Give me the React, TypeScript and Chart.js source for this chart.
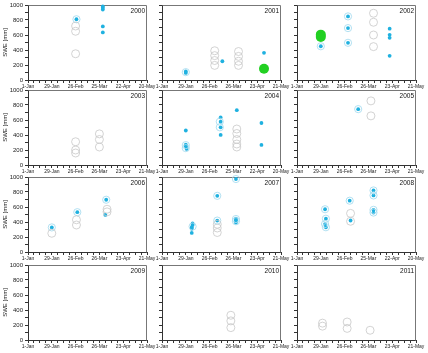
import { useEffect, useRef } from 'react';
import { Chart, registerables } from 'chart.js';

Chart.register(...registerables);

// Seasons shown, one panel each (3 columns x 4 rows)
const years = [2000, 2001, 2002, 2003, 2004, 2005, 2006, 2007, 2008, 2009, 2010, 2011];
const leapYears = [2000, 2004, 2008];

// Date labels every 28 days from 1-Jan
const leapTickLabels = ['1-Jan', '29-Jan', '26-Feb', '25-Mar', '22-Apr', '20-May'];
const commonTickLabels = ['1-Jan', '29-Jan', '26-Feb', '26-Mar', '23-Apr', '21-May'];
const sweTickLabels = [0, 200, 400, 600, 800, 1000];

// [year, days since 1-Jan, SWE mm]
const snowCourse: [number, number, number][] = [
  [2000, 56, 720], [2000, 56, 650], [2000, 56, 350],
  [2001, 62, 390], [2001, 62, 325], [2001, 62, 260], [2001, 62, 195],
  [2001, 90, 380], [2001, 90, 315], [2001, 90, 250], [2001, 90, 195],
  [2002, 90, 890], [2002, 90, 770], [2002, 90, 600], [2002, 90, 445],
  [2003, 56, 310], [2003, 56, 200], [2003, 56, 160],
  [2003, 84, 415], [2003, 84, 340], [2003, 84, 240],
  [2004, 88, 480], [2004, 88, 420], [2004, 88, 340], [2004, 88, 280], [2004, 88, 240],
  [2005, 87, 855], [2005, 87, 655],
  [2006, 28, 250], [2006, 57, 430], [2006, 57, 360], [2006, 93, 570], [2006, 93, 535],
  [2007, 65, 370], [2007, 65, 320], [2007, 65, 260],
  [2008, 63, 515], [2008, 63, 410],
  [2010, 81, 330], [2010, 81, 255], [2010, 81, 165],
  [2011, 30, 225], [2011, 30, 185], [2011, 59, 240], [2011, 59, 155], [2011, 86, 130],
];

const sensorRings: [number, number, number][] = [
  [2000, 57, 810],
  [2001, 28, 105],
  [2002, 28, 450], [2002, 60, 848], [2002, 60, 692], [2002, 60, 496],
  [2004, 28, 265], [2004, 28, 225], [2004, 68, 577], [2004, 68, 503],
  [2005, 72, 745],
  [2006, 28, 328], [2006, 58, 531], [2006, 92, 697],
  [2007, 36, 340], [2007, 65, 749], [2007, 65, 419], [2007, 87, 973], [2007, 87, 440], [2007, 87, 410],
  [2008, 33, 570], [2008, 34, 444], [2008, 33, 373], [2008, 34, 330], [2008, 62, 684],
  [2008, 90, 821], [2008, 90, 754], [2008, 90, 562], [2008, 90, 526],
];

const sensorSWE: [number, number, number][] = [
  [2000, 57, 810], [2000, 88, 980], [2000, 88, 965], [2000, 88, 940], [2000, 88, 715], [2000, 88, 635],
  [2001, 28, 115], [2001, 28, 95], [2001, 71, 250], [2001, 120, 362],
  [2002, 28, 450], [2002, 60, 848], [2002, 60, 692], [2002, 60, 496],
  [2002, 109, 684], [2002, 109, 603], [2002, 109, 563], [2002, 109, 322],
  [2004, 28, 460], [2004, 28, 270], [2004, 28, 250], [2004, 29, 215],
  [2004, 69, 635], [2004, 69, 577], [2004, 69, 503], [2004, 69, 401],
  [2004, 88, 731], [2004, 117, 560], [2004, 117, 268],
  [2005, 72, 745],
  [2006, 28, 328], [2006, 58, 531], [2006, 92, 697], [2006, 91, 495],
  [2007, 36, 380], [2007, 36, 360], [2007, 35, 330], [2007, 35, 310], [2007, 35, 255],
  [2007, 65, 749], [2007, 65, 419], [2007, 87, 973], [2007, 87, 446], [2007, 87, 424], [2007, 87, 392],
  [2008, 33, 570], [2008, 34, 444], [2008, 33, 373], [2008, 34, 330], [2008, 62, 684], [2008, 63, 420],
  [2008, 90, 821], [2008, 90, 754], [2008, 90, 562], [2008, 90, 526],
];

const modelSWE: [number, number, number][] = [
  [2001, 120, 150],
  [2002, 28, 605], [2002, 28, 575],
];

// Panel geometry (plot-area edges in page pixels)
const COL_LEFT = [28, 162, 297];
const ROW_TOP = [5, 90, 177, 265];
const PLOT_W = 119;
const PLOT_H = 75;
const AXIS_W = 28;
const AXIS_H = 14;
const PAD_T = 6;
const PAD_R = 14;

const FONT = '"Liberation Sans", Arial, sans-serif';
const AXIS_COLOR = '#333333';
const FRAME_COLOR = '#777777';
const CIRCLE_COLOR = '#c8c8c8';
const RING_COLOR = '#a9dcef';
const SENSOR_COLOR = '#1fb1e0';
const MODEL_COLOR = '#22d022';

const panelDecor = {
  id: 'panelDecor',
  beforeDatasetsDraw(chart: any) {
    const { ctx, chartArea } = chart;
    const l = Math.round(chartArea.left) + 0.5;
    const t = Math.round(chartArea.top) + 0.5;
    const r = Math.round(chartArea.right) - 0.5;
    const b = Math.round(chartArea.bottom) + 0.5;
    ctx.save();
    ctx.strokeStyle = FRAME_COLOR;
    ctx.lineWidth = 1;
    ctx.beginPath();
    ctx.moveTo(l, t);
    ctx.lineTo(r, t);
    ctx.lineTo(r, b);
    ctx.stroke();
    ctx.restore();
  },
  afterDraw(chart: any, _args: any, opts: any) {
    const { ctx, chartArea } = chart;
    ctx.save();
    ctx.fillStyle = '#111111';
    ctx.font = `6.5px ${FONT}`;
    ctx.textAlign = 'right';
    ctx.textBaseline = 'top';
    ctx.fillText(String(opts.year), chartArea.right - 2, chartArea.top + 3);
    ctx.restore();
  },
};

function pick(rows: [number, number, number][], year: number) {
  return rows.filter((r) => r[0] === year).map((r) => ({ x: r[1], y: r[2] }));
}

function Panel({ year, index }: { year: number; index: number }) {
  const ref = useRef<HTMLCanvasElement>(null);
  const col = index % 3;
  const row = Math.floor(index / 3);
  const left = COL_LEFT[col] - AXIS_W;
  const top = ROW_TOP[row] - PAD_T;
  const width = AXIS_W + PLOT_W + PAD_R;
  const height = PAD_T + PLOT_H + AXIS_H;

  useEffect(() => {
    if (!ref.current) return;
    const dateLabels = leapYears.includes(year) ? leapTickLabels : commonTickLabels;
    const showY = col === 0;
    const chart = new Chart(ref.current, {
      type: 'scatter',
      data: {
        datasets: [
          {
            data: pick(snowCourse, year),
            pointRadius: 4,
            pointBorderWidth: 0.8,
            pointBorderColor: CIRCLE_COLOR,
            pointBackgroundColor: 'rgba(0,0,0,0)',
            clip: false,
          },
          {
            data: pick(sensorRings, year),
            pointRadius: 3.6,
            pointBorderWidth: 0.9,
            pointBorderColor: RING_COLOR,
            pointBackgroundColor: 'rgba(0,0,0,0)',
            clip: false,
          },
          {
            data: pick(modelSWE, year),
            pointRadius: 5,
            pointBorderWidth: 0,
            pointBackgroundColor: MODEL_COLOR,
            clip: false,
          },
          {
            data: pick(sensorSWE, year),
            pointRadius: 1.9,
            pointBorderWidth: 0,
            pointBackgroundColor: SENSOR_COLOR,
            clip: false,
          },
        ],
      },
      options: {
        responsive: false,
        animation: false,
        events: [],
        layout: { padding: { top: PAD_T, right: PAD_R, left: 0, bottom: 0 } },
        plugins: {
          legend: { display: false },
          tooltip: { enabled: false },
          panelDecor: { year },
        } as any,
        scales: {
          x: {
            type: 'linear',
            min: 0,
            max: 140,
            grid: { drawOnChartArea: false, tickLength: 3, color: AXIS_COLOR, lineWidth: 1 },
            border: { color: AXIS_COLOR, width: 1 },
            ticks: {
              stepSize: 7,
              autoSkip: false,
              maxRotation: 0,
              padding: 1,
              color: '#222222',
              font: { size: 5, family: FONT },
              callback: (v: any) => (Number(v) % 28 === 0 ? dateLabels[Number(v) / 28] : ''),
            },
            afterFit: (s: any) => {
              s.height = AXIS_H;
              s.paddingLeft = 0;
              s.paddingRight = 0;
            },
          },
          y: {
            type: 'linear',
            min: 0,
            max: 1000,
            grid: { drawOnChartArea: false, tickLength: 3, color: AXIS_COLOR, lineWidth: 1 },
            border: { color: AXIS_COLOR, width: 1 },
            title: {
              display: showY,
              text: 'SWE [mm]',
              color: '#222222',
              font: { size: 6, family: FONT },
              padding: { top: 1.5, bottom: 0 },
            },
            ticks: {
              stepSize: 100,
              autoSkip: false,
              padding: 2,
              color: '#222222',
              font: { size: 6, family: FONT },
              callback: (v: any) =>
                showY && sweTickLabels.includes(Number(v)) ? String(v) : '',
            },
            afterFit: (s: any) => {
              s.width = AXIS_W;
              s.paddingTop = 0;
              s.paddingBottom = 0;
            },
          },
        },
      } as any,
      plugins: [panelDecor],
    });
    return () => chart.destroy();
  }, [year, col]);

  return (
    <canvas
      ref={ref}
      width={width}
      height={height}
      style={{ position: 'absolute', left, top, width, height }}
    />
  );
}

export default function App() {
  return (
    <div
      style={{
        position: 'fixed',
        left: 0,
        top: 0,
        width: 428,
        height: 353,
        background: '#ffffff',
        overflow: 'hidden',
      }}
    >
      {years.map((y, i) => (
        <Panel key={y} year={y} index={i} />
      ))}
    </div>
  );
}
